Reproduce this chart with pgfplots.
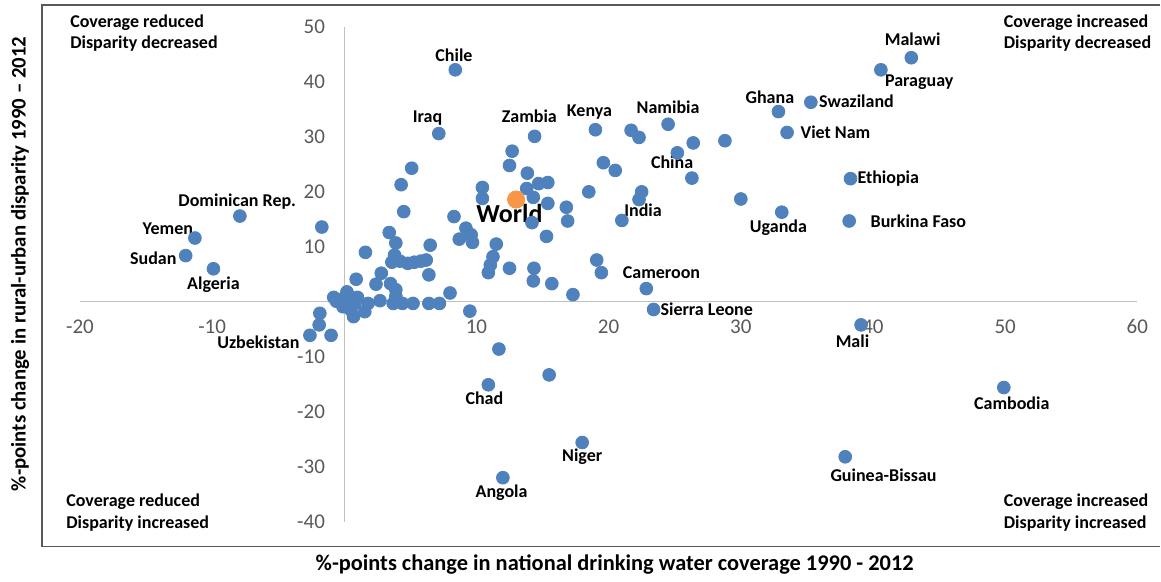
\documentclass[border=0pt]{standalone}
\usepackage{fontspec}
\setmainfont{Carlito}
\usepackage{pgfplots}
\pgfplotsset{compat=1.18}
\definecolor{dotblue}{RGB}{79,129,189}
\definecolor{worldorange}{RGB}{247,150,70}
\definecolor{axisgray}{RGB}{191,191,191}
\definecolor{tickgray}{RGB}{89,89,89}
\definecolor{framegray}{RGB}{89,89,89}

% country dots: x = change in coverage, y = change in disparity
\pgfplotstableread{
x y
-7.9 15.6
-11.3 11.6
-12.0 8.4
-9.9 6.0
-1.7 13.6
-2.6 -6.1
-1.0 -6.1
-1.9 -4.2
-1.85 -2.1
-0.6 0.1
-0.3 0.4
0.0 0.0
0.3 1.2
0.6 0.5
0.8 -0.3
-0.1 -0.9
0.5 -1.5
0.2 1.8
1.0 0.8
-0.8 0.8
0.7 -2.7
1.55 -1.8
1.8 -0.3
2.7 0.2
0.9 4.1
2.4 3.2
2.8 5.2
3.5 3.3
3.9 2.2
3.9 1.0
3.7 -0.3
4.4 -0.3
5.2 -0.3
6.4 -0.3
7.2 -0.3
8.0 1.6
9.5 -1.7
1.6 9.0
3.4 12.6
3.9 10.7
3.8 8.5
4.3 21.3
5.1 24.3
4.5 16.4
6.5 10.3
6.4 4.9
3.6 7.2
4.2 7.4
4.8 7.0
5.3 7.2
5.8 7.4
6.2 7.6
8.3 15.5
9.2 13.4
8.7 11.4
9.6 12.2
9.7 10.8
10.45 20.8
10.45 18.8
11.5 10.5
11.25 8.2
11.05 6.7
10.9 5.3
12.5 6.1
7.15 30.6
8.4 42.2
12.7 27.4
12.5 24.8
13.85 23.4
14.7 21.5
15.4 21.7
13.8 20.6
14.3 19.0
15.4 17.9
14.2 14.4
15.3 11.9
14.35 6.1
14.3 3.8
15.7 3.3
17.3 1.3
16.8 17.2
16.9 14.7
14.4 30.1
18.5 20.0
19.0 31.3
19.6 25.3
20.5 23.9
21.7 31.2
22.3 29.9
24.5 32.3
25.2 27.1
26.4 28.9
26.3 22.5
28.8 29.3
22.5 20.0
22.3 18.6
21.0 14.8
19.1 7.6
19.45 5.3
22.85 2.4
23.4 -1.4
30.0 18.7
32.85 34.6
35.3 36.3
33.5 30.8
40.6 42.2
42.9 44.4
38.3 22.4
33.1 16.3
38.2 14.7
39.1 -4.2
49.9 -15.6
37.9 -28.2
18.0 -25.6
12.0 -32.0
10.9 -15.1
11.7 -8.6
15.5 -13.3
}\countries

\begin{document}
\begin{tikzpicture}[
  lbl/.style={font=\fontsize{9}{10}\selectfont\bfseries, text=black, inner sep=0pt},
]
\begin{axis}[
  scale only axis, width=529pt, height=247.5pt,
  xmin=-20, xmax=60, ymin=-40, ymax=50,
  axis lines=middle,
  axis line style={draw=axisgray, line width=0.6pt, -},
  xtick={-20,-10,...,60}, ytick={-40,-30,...,50},
  major tick length=0pt,
  tick label style={font=\fontsize{10.5}{12}\selectfont, text=tickgray, inner sep=0pt},
  /pgf/number format/assume math mode=true,
  xticklabel style={anchor=center, yshift=-12.25pt},
  yticklabel style={anchor=east, xshift=-9.5pt},
  clip=false,
]
\addplot[only marks, mark=*, mark size=3.2pt,
  mark options={draw=dotblue, fill=dotblue}] table {\countries};
\addplot[only marks, mark=*, mark size=4.3pt,
  mark options={draw=worldorange, fill=worldorange}] coordinates {(13.0,18.6)};

% country labels
\node[lbl] at (8.3,44.9) {Chile};
\node[lbl] at (6.3,33.5) {Iraq};
\node[lbl] at (14.0,33.8) {Zambia};
\node[lbl] at (18.55,34.5) {Kenya};
\node[lbl] at (24.5,35.3) {Namibia};
\node[lbl] at (32.2,37.3) {Ghana};
\node[lbl, anchor=west] at (35.9,36.5) {Swaziland};
\node[lbl] at (43.0,47.8) {Malawi};
\node[lbl] at (43.5,40.0) {Paraguay};
\node[lbl, anchor=west] at (34.5,30.9) {Viet Nam};
\node[lbl] at (24.8,25.3) {China};
\node[lbl, anchor=west] at (38.8,22.5) {Ethiopia};
\node[lbl] at (22.6,16.7) {India};
\node[lbl] at (32.85,13.45) {Uganda};
\node[lbl, anchor=west] at (39.8,14.7) {Burkina Faso};
\node[font=\fontsize{13}{15}\selectfont\bfseries, inner sep=0pt] at (12.5,16.0) {World};
\node[lbl] at (24.0,5.3) {Cameroon};
\node[lbl, anchor=west] at (23.9,-1.3) {Sierra Leone};
\node[lbl] at (38.45,-7.1) {Mali};
\node[lbl] at (50.5,-18.5) {Cambodia};
\node[lbl] at (40.8,-31.5) {Guinea-Bissau};
\node[lbl] at (18.0,-28.2) {Niger};
\node[lbl] at (11.9,-34.7) {Angola};
\node[lbl] at (10.6,-17.6) {Chad};
\node[lbl] at (-6.5,-7.3) {Uzbekistan};
\node[lbl] at (-8.1,18.2) {Dominican Rep.};
\node[lbl] at (-13.35,13.3) {Yemen};
\node[lbl] at (-14.45,8.0) {Sudan};
\node[lbl] at (-9.9,3.1) {Algeria};

% quadrant notes
\node[lbl, anchor=west] at (-20.76,50.7) {Coverage reduced};
\node[lbl, anchor=west] at (-20.76,47.0) {Disparity decreased};
\node[lbl, anchor=west] at (49.87,50.7) {Coverage increased};
\node[lbl, anchor=west] at (49.87,47.0) {Disparity decreased};
\node[lbl, anchor=west] at (-21.06,-36.4) {Coverage reduced};
\node[lbl, anchor=west] at (-21.06,-40.3) {Disparity increased};
\node[lbl, anchor=west] at (49.87,-36.4) {Coverage increased};
\node[lbl, anchor=west] at (49.87,-40.3) {Disparity increased};

% axis titles
\node[font=\fontsize{10.4}{12}\selectfont\bfseries, rotate=90]
  at (rel axis cs:-0.0567,0.521) {\%-points change in rural-urban disparity 1990 – 2012};
\node[font=\fontsize{11.2}{13}\selectfont\bfseries]
  at (rel axis cs:0.5057,-0.0869) {\%-points change in national drinking water coverage 1990 - 2012};

% frame and page extent
\draw[framegray, line width=0.75pt] (rel axis cs:1.0217,1.0444) -- (rel axis cs:-0.0359,1.0444)
  -- (rel axis cs:-0.0359,-0.0505) -- (rel axis cs:1.0217,-0.0505);
\path (rel axis cs:-0.0756,-0.1152) rectangle (rel axis cs:1.0217,1.0545);
\end{axis}
\end{tikzpicture}
\end{document}
